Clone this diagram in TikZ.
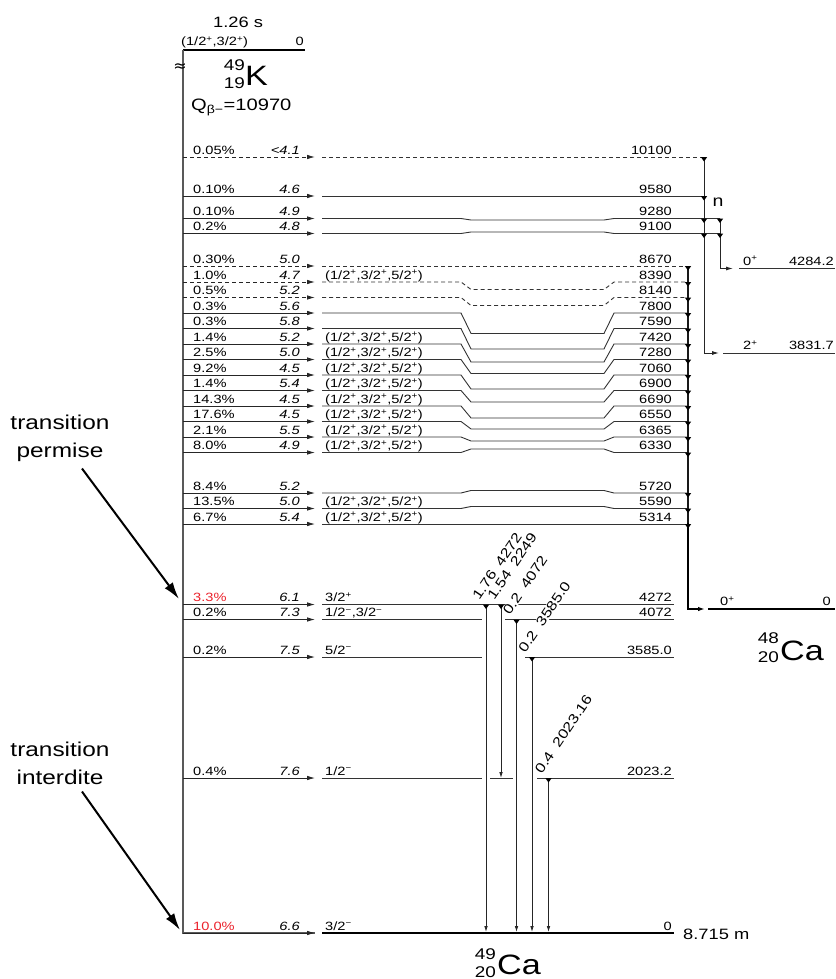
\documentclass[tikz,border=0pt]{standalone}
\usepackage{fontspec}
\setmainfont{Liberation Sans}[FakeStretch=1.22]
\newfontfamily\symf{DejaVu Sans}
\usetikzlibrary{arrows.meta}
\definecolor{pred}{RGB}{235,35,45}
\newcommand\pl{\textsuperscript{+}}
\newcommand\mn{\textsuperscript{−}}
\newcommand\spn{(1/2\pl,3/2\pl,5/2\pl)}
\tikzset{
  lab/.style={inner sep=0pt, font=\fontsize{12}{13}\selectfont},
  flab/.style={inner sep=0pt, font=\fontsize{12}{13}\selectfont\itshape},
  glab/.style={inner sep=0.5pt, fill=white, font=\fontsize{13.5}{14}\selectfont, rotate=56, anchor=base west},
  lvl/.style={draw=black!80, line width=0.9pt},
  gsl/.style={draw=black, line width=2.4pt},
  beta/.style={draw=black!85, line width=0.8pt, -{Latex[length=8pt,width=4.5pt]}},
  dsh/.style={dash pattern=on 4pt off 3pt},
  gam/.style={draw=black!85, line width=0.8pt, -{Latex[length=6pt,width=3.6pt]}},
  narr/.style={draw=black!85, line width=0.9pt, -{Latex[length=7pt,width=4pt]}},
  bigarr/.style={line width=2pt, -{Latex[length=17pt,width=10pt]}},
  big/.style={inner sep=0pt, font=\fontsize{20}{28}\selectfont, align=center},
}
\newcommand\Fd[7]{%
  \draw[beta,#7] (183,#2) -- (315,#2);
  \node[lab,anchor=base west] (p#1) at (193,#2-3) {#3};
  \node[flab,anchor=base east] (f#1) at (300,#2-3) {#4};
  \node[lab,anchor=base west] (s#1) at (325,#2-3) {#5};
  \node[lab,anchor=base east] (e#1) at (672,#2-3) {#6};}
\newcommand\Lp[4]{%
  \draw[lvl,#4] (322,#1) -- (461,#1) -- (471,#2) -- (604,#2) -- (614,#1) -- (#3,#1);}
\newcommand\Mk[2]{\fill[black] (#1-3.2,#2) -- (#1+3.2,#2) -- (#1,#2+4.5) -- cycle;}
\begin{document}
\begin{tikzpicture}[x=1pt,y=-1pt]
\useasboundingbox (0,0) rectangle (835,979);
% parent
\node[font=\fontsize{15}{17}\selectfont, inner sep=0pt] (hl) at (238,22) {1.26 s};
\node[lab,anchor=base west] (pspin) at (181,46) {(1/2\pl,3/2\pl)};
\node[lab,anchor=base east] (pen) at (304,46) {0};
\draw[black,line width=2pt] (183,50) -- (305,50);
\draw[black!65,line width=1.1pt] (183,50) -- (183,933) -- (315,933);
\node[inner sep=0pt,font=\symf\fontsize{16}{16}\selectfont] (brk) at (180,68) {≈};
\node[inner sep=0pt,anchor=base east,font=\fontsize{15.5}{15}\selectfont] (kA) at (245,71) {49};
\node[inner sep=0pt,anchor=base east,font=\fontsize{15.5}{15}\selectfont] (kZ) at (245,89) {19};
\node[inner sep=0pt,anchor=base west,font=\fontsize{28}{28}\selectfont] (kK) at (245,86) {K};
\node[inner sep=0pt,anchor=base west,font=\fontsize{16.5}{17}\selectfont] (qv) at (191,111) {Q\textsubscript{β−}=10970};

% feeding + labels
\Fd{A}{157}{0.05\%}{<4.1}{}{10100}{dsh}
\Fd{B}{196}{0.10\%}{4.6}{}{9580}{solid}
\Fd{C}{218.5}{0.10\%}{4.9}{}{9280}{solid}
\Fd{D}{233.5}{0.2\%}{4.8}{}{9100}{solid}
\Fd{E}{266}{0.30\%}{5.0}{}{8670}{dsh}
\Fd{F}{282}{1.0\%}{4.7}{\spn}{8390}{dsh}
\Fd{G}{297.5}{0.5\%}{5.2}{}{8140}{dsh}
\Fd{H}{313}{0.3\%}{5.6}{}{7800}{solid}
\Fd{I}{328.5}{0.3\%}{5.8}{}{7590}{solid}
\Fd{J}{344}{1.4\%}{5.2}{\spn}{7420}{solid}
\Fd{K}{359.5}{2.5\%}{5.0}{\spn}{7280}{solid}
\Fd{L}{375}{9.2\%}{4.5}{\spn}{7060}{solid}
\Fd{M}{390.5}{1.4\%}{5.4}{\spn}{6900}{solid}
\Fd{N}{406}{14.3\%}{4.5}{\spn}{6690}{solid}
\Fd{O}{421.5}{17.6\%}{4.5}{\spn}{6550}{solid}
\Fd{P}{437}{2.1\%}{5.5}{\spn}{6365}{solid}
\Fd{Q}{452.5}{8.0\%}{4.9}{\spn}{6330}{solid}
\Fd{R}{493}{8.4\%}{5.2}{}{5720}{solid}
\Fd{S}{508.5}{13.5\%}{5.0}{\spn}{5590}{solid}
\Fd{T}{524}{6.7\%}{5.4}{\spn}{5314}{solid}
\Fd{U}{604.5}{\color{pred}3.3\%}{6.1}{3/2\pl}{4272}{solid}
\Fd{V}{619.5}{0.2\%}{7.3}{1/2\mn,3/2\mn}{4072}{solid}
\Fd{W}{657}{0.2\%}{7.5}{5/2\mn}{3585.0}{solid}
\Fd{X}{778}{0.4\%}{7.6}{1/2\mn}{2023.2}{solid}
\Fd{Y}{933}{\color{pred}10.0\%}{6.6}{3/2\mn}{0}{solid}

% level lines
\draw[lvl,dsh] (322,157) -- (705,157);
\draw[lvl] (322,196) -- (705,196);
\Lp{218.5}{220}{720}{solid}
\Lp{233.5}{232}{720}{solid}
\draw[lvl,dsh] (322,266) -- (688,266);
\Lp{282}{289.5}{688}{dsh}
\Lp{297.5}{305.5}{688}{dsh}
\Lp{313}{333.5}{688}{solid}
\Lp{328.5}{349}{688}{solid}
\Lp{344}{362}{688}{solid}
\Lp{359.5}{373.5}{688}{solid}
\Lp{375}{389}{688}{solid}
\Lp{390.5}{402}{688}{solid}
\Lp{406}{418}{688}{solid}
\Lp{421.5}{429}{688}{solid}
\Lp{437}{441}{688}{solid}
\Lp{452.5}{449}{688}{solid}
\Lp{493}{490.5}{688}{solid}
\Lp{508.5}{506.5}{688}{solid}
\draw[lvl] (322,524) -- (688,524);
\draw[lvl] (322,604.5) -- (674,604.5);
\draw[lvl] (322,619.5) -- (482,619.5) (505,619.5) -- (674,619.5);
\draw[lvl] (322,657) -- (482,657) (525,657) -- (674,657);
\draw[lvl] (322,778) -- (482,778) (490,778) -- (513,778) (537,778) -- (674,778);
\draw[gsl] (322,933) -- (674,933);
\node[inner sep=0pt,anchor=west,font=\fontsize{15}{15}\selectfont] (hl2) at (683,934) {8.715 m};

% neutron emission
\draw[narr] (704,157) |- (719,353);
\draw[narr] (720,218.5) |- (733,268.5);
\foreach \yy in {157,196,218.5,233.5} {\Mk{704}{\yy}}
\foreach \yy in {218.5,233.5} {\Mk{720}{\yy}}
\node[inner sep=0pt,font=\fontsize{16}{16}\selectfont] (nn) at (718,202) {n};
\draw[lvl] (739,268.5) -- (835,268.5);
\node[lab,anchor=base west] (l0a) at (743,265) {0\pl};
\node[lab,anchor=base east] (l0b) at (834,265) {4284.2};
\draw[lvl] (723,353) -- (835,353);
\node[lab,anchor=base west] (l2a) at (743,349.5) {2\pl};
\node[lab,anchor=base east] (l2b) at (834,349.5) {3831.7};

% 48Ca branch
\draw[black!90,line width=1.2pt] (688,266) -- (688,524);
\draw[black,line width=2pt,-{Latex[length=7pt,width=4.5pt]}] (688,523) |- (705,609);
\foreach \yy in {266,282,297.5,313,328.5,344,359.5,375,390.5,406,421.5,437,452.5,493,508.5,524} {\Mk{688}{\yy}}
\draw[gsl] (708,609) -- (835,609);
\node[lab,anchor=base west] (c0a) at (720,605.5) {0\pl};
\node[lab,anchor=base east] (c0b) at (831,605.5) {0};
\node[inner sep=0pt,anchor=base east,font=\fontsize{15.5}{15}\selectfont] (cA) at (779,643) {48};
\node[inner sep=0pt,anchor=base east,font=\fontsize{15.5}{15}\selectfont] (cZ) at (779,662) {20};
\node[inner sep=0pt,anchor=base west,font=\fontsize{28}{28}\selectfont] (cCa) at (780,660) {Ca};

% gammas
\node[glab] (g1l) at (479,601.5) {1.76\hspace{4pt} 4272};
\node[glab] (g2l) at (494,601.5) {1.54\hspace{4pt} 2249};
\node[glab] (g3l) at (509.5,616.5) {0.2\hspace{4pt} 4072};
\node[glab] (g4l) at (525,654) {0.2\hspace{4pt} 3585.0};
\node[glab] (g5l) at (541.5,775) {0.4\hspace{4pt} 2023.16};
\draw[gam] (486,604.5) -- (486,932);
\draw[gam] (501,604.5) -- (501,778);
\draw[gam] (516.5,619.5) -- (516.5,932);
\draw[gam] (532,657) -- (532,932);
\draw[gam] (548.5,778) -- (548.5,932);
\Mk{486}{604.5}\Mk{501}{604.5}\Mk{516.5}{619.5}\Mk{532}{657}\Mk{548.5}{778}
\node[inner sep=0pt,anchor=base east,font=\fontsize{15.5}{15}\selectfont] (dA) at (496,959) {49};
\node[inner sep=0pt,anchor=base east,font=\fontsize{15.5}{15}\selectfont] (dZ) at (496,977) {20};
\node[inner sep=0pt,anchor=base west,font=\fontsize{28}{28}\selectfont] (dCa) at (497,974) {Ca};

% annotations
\node[big] (tp) at (60,438) {transition\\permise};
\node[big] (ti) at (60,763) {transition\\interdite};
\coordinate (tpe) at (179,599);
\coordinate (tie) at (180,930);
\draw[bigarr] ([xshift=22pt,yshift=-7pt]tp.south) -- (tpe);
\draw[bigarr] ([xshift=22pt,yshift=-7pt]ti.south) -- (tie);
\end{tikzpicture}
\end{document}
